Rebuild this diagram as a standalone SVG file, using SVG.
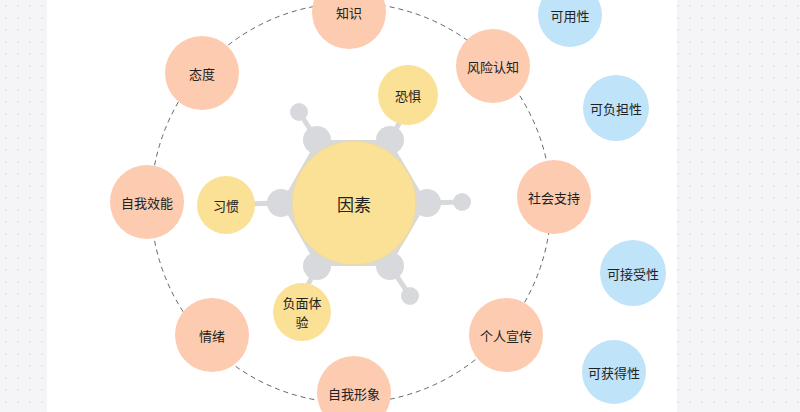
<svg xmlns="http://www.w3.org/2000/svg" width="800" height="412" viewBox="0 0 800 412">
<defs>
<pattern id="dots" width="12" height="12" patternUnits="userSpaceOnUse"><rect width="12" height="12" fill="#f5f5f8"/><circle cx="6" cy="6" r="0.9" fill="#e2e2e8"/></pattern>
<style>
text{font-family:"Noto Sans CJK SC","Noto Sans",sans-serif;font-size:13px;fill:#222;text-anchor:middle;dominant-baseline:central}
.p{fill:#fccbb0}.b{fill:#bfe3f9}.y{fill:#fbe196}.g{fill:#d8d9dc}
.gl{stroke:#d8d9dc;stroke-width:5}
</style>
</defs>
<rect width="800" height="412" fill="url(#dots)"/>
<rect x="47" y="0" width="630" height="412" fill="#fff"/>
<g id="connectors">
<circle cx="351" cy="203" r="200" fill="none" stroke="#666" stroke-width="1" stroke-dasharray="5,4"/>
<line class="gl" x1="427" y1="203" x2="462" y2="202"/>
<line class="gl" x1="317" y1="140" x2="299" y2="112"/>
<line class="gl" x1="390" y1="266" x2="410" y2="296"/>
<line class="gl" x1="390" y1="140" x2="402" y2="118"/>
<line class="gl" x1="281" y1="203" x2="250" y2="204"/>
<line class="gl" x1="317" y1="266" x2="308" y2="285"/>
</g>
<g id="hub">
<polygon class="g" points="427,203 390,140 317,140 281,203 317,266 390,266"/>
<circle class="g" cx="427" cy="203" r="14"/><circle class="g" cx="390" cy="140" r="14"/><circle class="g" cx="317" cy="140" r="14"/>
<circle class="g" cx="281" cy="203" r="14"/><circle class="g" cx="317" cy="266" r="14"/><circle class="g" cx="390" cy="266" r="14"/>
<circle class="g" cx="462" cy="202" r="9"/><circle class="g" cx="299" cy="112" r="9"/><circle class="g" cx="410" cy="296" r="9"/>
<circle class="y" cx="354" cy="203" r="62" stroke="#e6d9b4" stroke-width="1.5"/>
<text x="354" y="203" style="font-size:17px">因素</text>
</g>
<g id="n-zhishi"><circle class="p" cx="349" cy="12" r="37"/><text x="349" y="12">知识</text></g>
<g id="n-fengxian"><circle class="p" cx="493" cy="66" r="37"/><text x="493" y="66">风险认知</text></g>
<g id="n-shehui"><circle class="p" cx="554" cy="197" r="37"/><text x="554" y="197">社会支持</text></g>
<g id="n-geren"><circle class="p" cx="506" cy="335" r="37"/><text x="506" y="335">个人宣传</text></g>
<g id="n-ziwoxx"><circle class="p" cx="354" cy="393" r="37"/><text x="354" y="393">自我形象</text></g>
<g id="n-qingxu"><circle class="p" cx="212" cy="335" r="37"/><text x="212" y="335">情绪</text></g>
<g id="n-xiaoneng"><circle class="p" cx="147" cy="202" r="37"/><text x="147" y="202">自我效能</text></g>
<g id="n-taidu"><circle class="p" cx="202" cy="73" r="37"/><text x="202" y="73">态度</text></g>
<g id="n-kongju"><circle class="y" cx="408" cy="95" r="30"/><text x="408" y="95">恐惧</text></g>
<g id="n-xiguan"><circle class="y" cx="226" cy="205" r="29"/><text x="226" y="205">习惯</text></g>
<g id="n-fumian"><circle class="y" cx="302" cy="312" r="29"/><text x="302" y="302">负面体</text><text x="302" y="321">验</text></g>
<g id="n-keyong"><circle class="b" cx="570" cy="15" r="32"/><text x="570" y="15">可用性</text></g>
<g id="n-kefudan"><circle class="b" cx="616" cy="108" r="33"/><text x="616" y="108">可负担性</text></g>
<g id="n-kejieshou"><circle class="b" cx="633" cy="273" r="33"/><text x="633" y="273">可接受性</text></g>
<g id="n-kehuode"><circle class="b" cx="614" cy="372" r="32"/><text x="614" y="372">可获得性</text></g>
</svg>
